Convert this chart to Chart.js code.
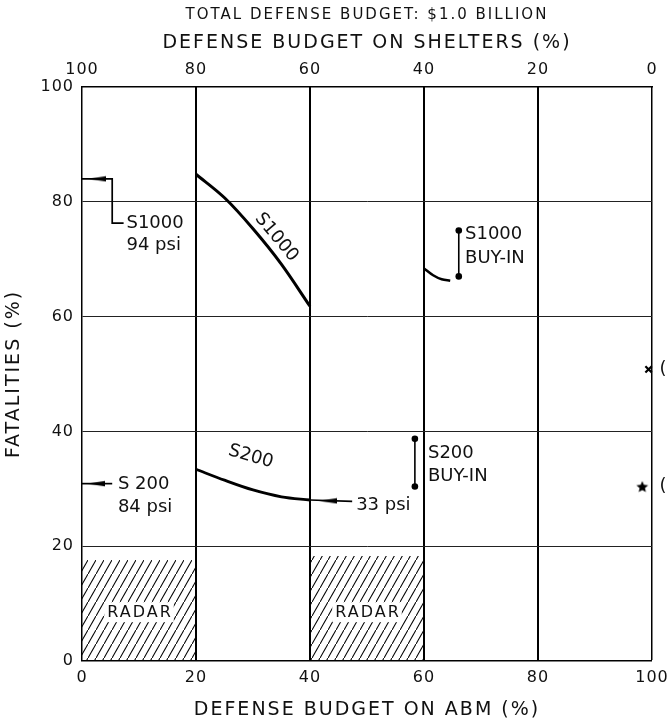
<!DOCTYPE html>
<html>
<head>
<meta charset="utf-8">
<title>Fatalities vs defense budget split</title>
<script src="https://cdn.jsdelivr.net/npm/chart.js@4.4.1/dist/chart.umd.min.js"></script>
<style>
    html, body { margin: 0; padding: 0; background: #fff; }
    #wrap { width: 670px; height: 721px; }
</style>
</head>
<body>
<div id="wrap"><canvas id="fatalChart"></canvas></div>
<script>
// bottom axis: share of budget on ABM (%), top axis: share on shelters (%)
const abmTicks = [0, 20, 40, 60, 80, 100];
const shelterTicks = [100, 80, 60, 40, 20, 0];
const fatalTicks = [0, 20, 40, 60, 80, 100];

// [abm %, fatalities %]
const s1000Curve = [[20, 84.8], [25, 80.7], [30, 75.3], [35, 69.1], [40, 61.8]];
const s200Curve = [[20, 33.4], [25, 31.5], [30, 29.8], [35, 28.6], [40, 28.05]];
const s1000BuyInCurve = [[60, 68.4], [61.6, 67.2], [63.1, 66.5], [64.6, 66.25]];
const s1000BuyIn = [[66.1, 75.0], [66.1, 67.0]];
const s200BuyIn = [[58.4, 38.7], [58.4, 30.4]];

// leaders for the all-shelter cases and the 33 psi callout
const s1000Leader = [[0, 84.0], [5.3, 84.0], [5.3, 76.3], [7.3, 76.3]];
const s200Leader = [[0, 30.9], [5.3, 30.9]];
const psi33Leader = [[40, 28.05], [47.4, 27.8]];
const arrowHeads = [[2.7, 84.0], [2.5, 30.9], [43.2, 27.9]];

// radar-limited blocks
const radarLeft = [[0, 17.6], [20, 17.6]];
const radarMid = [[40, 18.3], [60, 18.3]];
const radarLabels = [[10, 8.5], [50, 8.5]];

const crossMark = [[99.4, 50.8]];
const starMark = [[98.3, 30.4]];

const notes = [
    { text: "S1000", x: 7.8, y: 76.3, angle: 0 },
    { text: "94 psi", x: 7.8, y: 72.5, angle: 0 },
    { text: "S 200", x: 6.3, y: 30.8, angle: 0 },
    { text: "84 psi", x: 6.3, y: 26.8, angle: 0 },
    { text: "33 psi", x: 48.1, y: 27.2, angle: 0 },
    { text: "S1000", x: 67.2, y: 74.4, angle: 0 },
    { text: "BUY-IN", x: 67.2, y: 70.2, angle: 0 },
    { text: "S200", x: 60.7, y: 36.2, angle: 0 },
    { text: "BUY-IN", x: 60.7, y: 32.1, angle: 0 },
    { text: "S1000", x: 34.1, y: 73.8, angle: 50 },
    { text: "S200", x: 29.6, y: 35.6, angle: 16 },
    { text: "(", x: 101.3, y: 50.8, angle: 0 },
    { text: "(", x: 101.3, y: 30.4, angle: 0 }
];

const pts = arr => arr.map(([x, y]) => ({ x, y }));

function hatchPattern() {
    const tile = document.createElement("canvas");
    tile.width = 8;
    tile.height = 14;
    const g = tile.getContext("2d");
    g.strokeStyle = "#000";
    g.lineWidth = 1.1;
    g.beginPath();
    g.moveTo(-1, 15.75);
    g.lineTo(9, -1.75);
    g.stroke();
    return g.createPattern(tile, "repeat");
}

function arrowImage() {
    const c = document.createElement("canvas");
    c.width = 18;
    c.height = 7;
    const g = c.getContext("2d");
    g.fillStyle = "#000";
    g.beginPath();
    g.moveTo(0, 3.5);
    g.lineTo(18, 0.8);
    g.lineTo(18, 6.2);
    g.closePath();
    g.fill();
    return c;
}

function starImage() {
    const c = document.createElement("canvas");
    c.width = 14;
    c.height = 14;
    const g = c.getContext("2d");
    g.fillStyle = "#000";
    g.beginPath();
    for (let i = 0; i < 10; i++) {
        const r = i % 2 ? 2.8 : 6.2;
        const a = -Math.PI / 2 + i * Math.PI / 5;
        g.lineTo(7 + r * Math.cos(a), 7.6 + r * Math.sin(a));
    }
    g.closePath();
    g.fill();
    return c;
}

const hatch = hatchPattern();
const arrow = arrowImage();
const star = starImage();

function curve(data, width) {
    return {
        data: pts(data),
        borderColor: "#000",
        borderWidth: width,
        cubicInterpolationMode: "monotone",
        pointRadius: 0,
        fill: false
    };
}

function leader(data) {
    return { data: pts(data), borderColor: "#000", borderWidth: 1.7, pointRadius: 0, fill: false };
}

function buyIn(data) {
    return {
        data: pts(data),
        borderColor: "#000",
        borderWidth: 1.6,
        pointRadius: 3.3,
        pointBorderWidth: 0,
        pointBackgroundColor: "#000",
        fill: false
    };
}

function radar(data) {
    return {
        data: pts(data),
        borderColor: "rgba(0,0,0,0)",
        backgroundColor: hatch,
        pointRadius: 0,
        fill: "origin"
    };
}

// keep the frame fixed: tick labels may hang past the plot edges
function noEdgePadding(s) {
    s.paddingLeft = 0;
    s.paddingRight = 0;
}

// titles are lettered wide, tick numbers a little tighter, callouts tight
const notePlugin = {
    id: "notes",
    beforeDraw(chart) {
        chart.ctx.letterSpacing = "2px";
    },
    afterDatasetsDraw(chart) {
        const { ctx, scales: { x, y } } = chart;
        ctx.save();
        ctx.letterSpacing = "0px";
        ctx.fillStyle = "#111";
        ctx.font = '18px "DejaVu Sans"';
        ctx.textBaseline = "middle";
        notes.forEach(n => {
            ctx.save();
            ctx.translate(x.getPixelForValue(n.x), y.getPixelForValue(n.y));
            ctx.rotate(n.angle * Math.PI / 180);
            ctx.textAlign = n.angle ? "center" : "left";
            ctx.fillText(n.text, 0, 0);
            ctx.restore();
        });

        ctx.font = '16px "DejaVu Sans"';
        ctx.letterSpacing = "2px";
        ctx.textAlign = "center";
        radarLabels.forEach(([vx, vy]) => {
            const px = x.getPixelForValue(vx);
            const py = y.getPixelForValue(vy);
            const w = ctx.measureText("RADAR").width + 4;
            ctx.fillStyle = "#fff";
            ctx.fillRect(px - w / 2, py - 10, w, 20);
            ctx.fillStyle = "#111";
            ctx.fillText("RADAR", px + 1, py + 1);
        });
        ctx.restore();
        // tick labels (z: 1) are drawn after this point
        ctx.letterSpacing = "1px";
    }
};

Chart.defaults.font.family = '"DejaVu Sans", sans-serif';
Chart.defaults.color = "#111";

new Chart(document.getElementById("fatalChart"), {
    type: "line",
    data: {
        datasets: [
            radar(radarLeft),
            radar(radarMid),
            curve(s1000Curve, 3),
            curve(s200Curve, 2.8),
            curve(s1000BuyInCurve, 2.5),
            buyIn(s1000BuyIn),
            buyIn(s200BuyIn),
            leader(s1000Leader),
            leader(s200Leader),
            leader(psi33Leader),
            { data: pts(arrowHeads), showLine: false, pointStyle: arrow, pointRadius: 6 },
            {
                data: pts(crossMark), showLine: false, pointStyle: "crossRot",
                pointRadius: 4.5, pointBorderWidth: 2.2, pointBorderColor: "#000", clip: false
            },
            { data: pts(starMark), showLine: false, pointStyle: star, pointRadius: 6, clip: false }
        ]
    },
    options: {
        responsive: true,
        maintainAspectRatio: false,
        animation: false,
        events: [],
        layout: { padding: { right: 18 } },
        plugins: {
            legend: { display: false },
            tooltip: { enabled: false },
            title: {
                display: true,
                fullSize: false,
                text: "TOTAL DEFENSE BUDGET: $1.0 BILLION",
                color: "#111",
                font: { size: 15, weight: "normal" },
                padding: { top: 6, bottom: 0 }
            }
        },
        scales: {
            x: {
                type: "linear",
                position: "bottom",
                min: 0,
                max: 100,
                afterBuildTicks: s => { s.ticks = abmTicks.map(v => ({ value: v })); },
                ticks: { padding: 7, z: 1, font: { size: 16 } },
                grid: {
                    color: "#000",
                    drawTicks: false,
                    lineWidth: c => c.tick.value === 0 ? 0 : (c.tick.value === 100 ? 1.5 : 2)
                },
                border: { display: true, color: "#000", width: 1.5 },
                title: {
                    display: true,
                    text: "DEFENSE BUDGET ON ABM (%)",
                    font: { size: 19 },
                    padding: { top: 0, bottom: 0 }
                },
                afterFit: s => { s.height = 60; noEdgePadding(s); }
            },
            x2: {
                type: "linear",
                position: "top",
                min: 0,
                max: 100,
                reverse: true,
                afterBuildTicks: s => { s.ticks = shelterTicks.map(v => ({ value: v })); },
                ticks: { padding: 0, z: 1, font: { size: 16 } },
                grid: { display: false },
                border: { display: true, color: "#000", width: 1.5 },
                title: {
                    display: true,
                    text: "DEFENSE BUDGET ON SHELTERS (%)",
                    font: { size: 19 },
                    padding: { top: 8, bottom: 0 }
                },
                afterFit: s => { s.height = 63; noEdgePadding(s); }
            },
            y: {
                min: 0,
                max: 100,
                afterBuildTicks: s => { s.ticks = fatalTicks.map(v => ({ value: v })); },
                ticks: { padding: 8, z: 1, font: { size: 16 } },
                grid: {
                    color: "#222",
                    drawTicks: false,
                    lineWidth: c => (c.tick.value === 0 || c.tick.value === 100) ? 0 : 1
                },
                border: { display: true, color: "#000", width: 1.5 },
                title: {
                    display: true,
                    text: "FATALITIES (%)",
                    font: { size: 19 },
                    padding: { top: 3, bottom: 0 }
                },
                afterFit: s => { s.width = 82; }
            }
        }
    },
    plugins: [notePlugin]
});
</script>
</body>
</html>
